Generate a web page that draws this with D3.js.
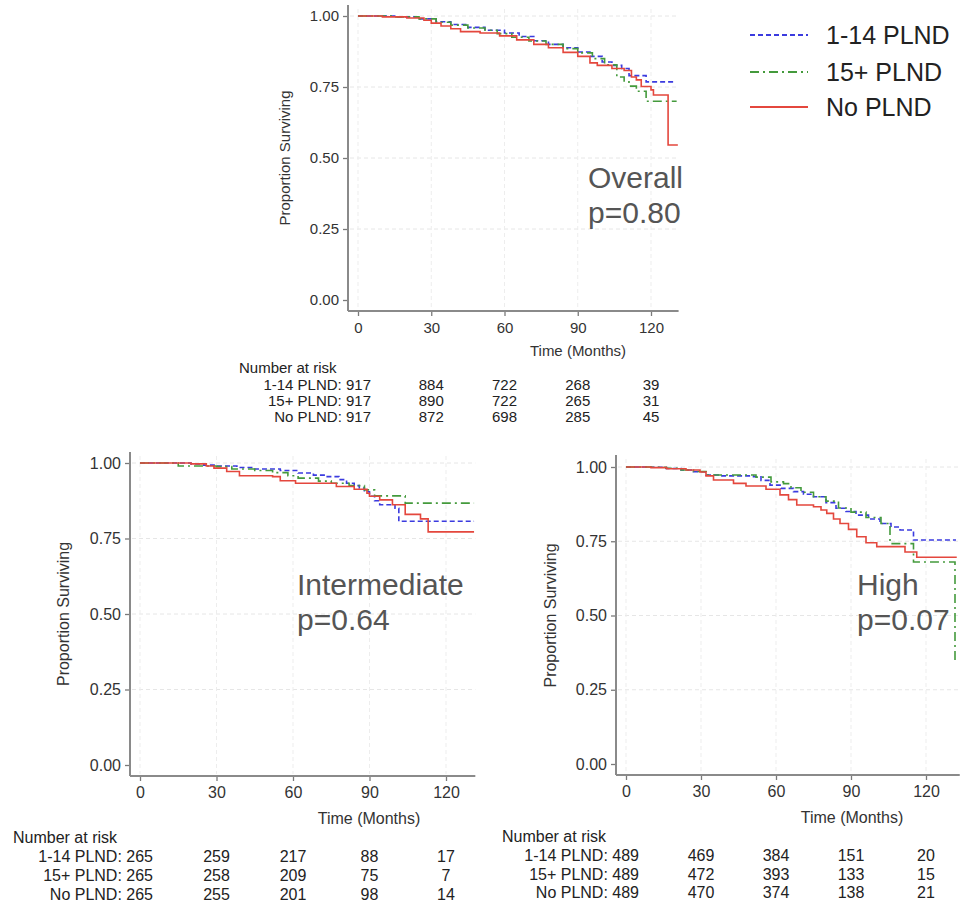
<!DOCTYPE html>
<html>
<head>
<meta charset="utf-8">
<script src="https://cdn.jsdelivr.net/npm/d3@7"></script>
<style>
  body { margin: 0; background: #fff; }
  text { font-family: "Liberation Sans", Arial, sans-serif; }
</style>
</head>
<body>
<script>
/* DATA */
var groups = ["1-14 PLND", "15+ PLND", "No PLND"];
var xTicks = [0, 30, 60, 90, 120];
var yTicks = [0, 0.25, 0.5, 0.75, 1];

// Kaplan-Meier steps: [month, proportion surviving]
var overallBlue = [[0,1],[15,0.997],[25,0.99],[32,0.98],[38,0.97],[45,0.96],[52,0.95],[60,0.94],[66,0.928],[72,0.913],[78,0.9],[84,0.888],[90,0.873],[95,0.858],[100,0.838],[104,0.826],[108,0.815],[111,0.79],[118,0.768],[130,0.768]];
var overallGreen = [[0,1],[15,0.997],[25,0.99],[32,0.978],[38,0.968],[45,0.958],[52,0.95],[57,0.938],[63,0.925],[70,0.912],[77,0.9],[84,0.885],[90,0.87],[96,0.85],[101,0.828],[106,0.785],[109,0.768],[111,0.753],[114,0.735],[118,0.70],[130.5,0.70]];
var overallRed = [[0,1],[10,0.997],[20,0.993],[27,0.985],[30,0.975],[34,0.965],[38,0.955],[42,0.945],[50,0.94],[58,0.93],[65,0.916],[72,0.9],[78,0.888],[84,0.872],[90,0.858],[95,0.835],[98,0.826],[104,0.815],[109,0.808],[112,0.785],[114,0.775],[116,0.752],[120,0.74],[121,0.722],[127,0.546],[131,0.546]];

var interBlue = [[0,1],[20,0.997],[25,0.993],[30,0.99],[38,0.985],[45,0.98],[55,0.975],[62,0.967],[68,0.96],[73,0.955],[78,0.945],[81,0.933],[84,0.925],[86,0.917],[88,0.905],[90,0.89],[92,0.875],[94,0.862],[100,0.85],[101.5,0.807],[131,0.807]];
var interGreen = [[0,1],[15,0.99],[30,0.988],[36,0.98],[45,0.975],[52,0.968],[58,0.958],[62,0.95],[70,0.94],[75,0.933],[82,0.925],[88,0.911],[92,0.891],[104,0.867],[131,0.867]];
var interRed = [[0,1],[20,0.997],[26,0.99],[29,0.983],[34,0.972],[39,0.958],[52,0.955],[55,0.941],[61,0.933],[74,0.933],[77,0.922],[84,0.913],[89,0.9],[90,0.89],[94,0.878],[99,0.862],[104,0.83],[110,0.815],[113,0.772],[131,0.772]];

var highBlue = [[0,1],[10,0.999],[16,0.995],[22,0.99],[27,0.984],[32,0.973],[38,0.97],[51,0.967],[54,0.955],[57.6,0.939],[62,0.928],[67,0.917],[71,0.908],[75,0.9],[80,0.88],[84,0.861],[88,0.85],[92,0.838],[97,0.825],[101.6,0.81],[106,0.798],[109.6,0.788],[115,0.754],[132,0.754]];
var highGreen = [[0,1],[10,0.999],[16,0.996],[22,0.99],[27,0.985],[32,0.973],[52,0.966],[58,0.95],[63,0.944],[66,0.93],[70,0.915],[75,0.9],[80,0.885],[85,0.862],[90,0.848],[96,0.83],[102,0.81],[105.6,0.742],[115,0.68],[131.6,0.68],[131.6,0.343]];
var highRed = [[0,1],[10,0.998],[16.3,0.994],[24,0.99],[29.6,0.983],[32,0.97],[35,0.956],[43,0.945],[48,0.936],[56,0.925],[61.6,0.906],[65,0.89],[68.3,0.872],[75,0.866],[78,0.855],[80.3,0.844],[83,0.825],[85.6,0.81],[89,0.79],[92.3,0.765],[96,0.745],[100.3,0.732],[109.6,0.732],[111.6,0.714],[116.3,0.696],[132.3,0.696]];

// number at risk at 0, 30, 60, 90, 120 months
var overallRisk = [[917,884,722,268,39],[917,890,722,265,31],[917,872,698,285,45]];
var interRisk = [[265,259,217,88,17],[265,258,209,75,7],[265,255,201,98,14]];
var highRisk = [[489,469,384,151,20],[489,472,393,133,15],[489,470,374,138,21]];

/* STYLE */
var colors = ["#3b3bdf", "#449a3c", "#e4473d"];
var dashes = ["5,3", "9,4,2,4", null];

var svg = d3.select("body").append("svg")
    .attr("width", 968)
    .attr("height", 916);

var panels = [
  {title: "Overall", p: "p=0.80", curves: [overallBlue, overallGreen, overallRed], risk: overallRisk,
   x0: 358, x120: 651, xEnd: 131.3, yTop: 16, yBot: 300, axisX: 348, axisY: 311, axisTop: 5, fs: 15,
   labX: 588, labY: 188, yTitleX: 290, timeX: 578, timeY: 356, nriskX: 239, nriskY: 373, rowY: [390, 406, 422]},
  {title: "Intermediate", p: "p=0.64", curves: [interBlue, interGreen, interRed], risk: interRisk,
   x0: 140, x120: 446, xEnd: 131.5, yTop: 463, yBot: 765, axisX: 130, axisY: 776, axisTop: 452, fs: 16,
   labX: 297, labY: 595, yTitleX: 69, timeX: 369, timeY: 824, nriskX: 13, nriskY: 843, rowY: [862, 881, 900]},
  {title: "High", p: "p=0.07", curves: [highBlue, highGreen, highRed], risk: highRisk,
   x0: 626, x120: 926, xEnd: 133.5, yTop: 467, yBot: 764, axisX: 616, axisY: 775, axisTop: 455, fs: 16,
   labX: 857, labY: 595, yTitleX: 556, timeX: 852, timeY: 823, nriskX: 502, nriskY: 842, rowY: [861, 880, 898]}
];

panels.forEach(drawPanel);
drawLegend();

function drawPanel(p) {
  var x = d3.scaleLinear().domain([0, 120]).range([p.x0, p.x120]);
  var y = d3.scaleLinear().domain([0, 1]).range([p.yBot, p.yTop]);
  var g = svg.append("g");

  // grid
  g.selectAll(".hgrid").data(yTicks.slice(1)).enter().append("line")
    .attr("x1", p.axisX + 2).attr("x2", x(p.xEnd))
    .attr("y1", d => y(d)).attr("y2", d => y(d))
    .attr("stroke", "#e6e6e6").attr("stroke-dasharray", "4,3");
  g.selectAll(".vgrid").data(xTicks).enter().append("line")
    .attr("x1", d => x(d)).attr("x2", d => x(d))
    .attr("y1", p.axisTop + 4).attr("y2", p.axisY - 2)
    .attr("stroke", "#ededed").attr("stroke-dasharray", "4,3");

  // axes
  var yAxis = g.append("g")
    .attr("transform", "translate(" + p.axisX + ",0)")
    .call(d3.axisLeft(y).tickValues(yTicks).tickFormat(d3.format(".2f")).tickSize(5).tickPadding(4));
  var xAxis = g.append("g")
    .attr("transform", "translate(0," + p.axisY + ")")
    .call(d3.axisBottom(x).tickValues(xTicks).tickSize(5).tickPadding(6));
  [yAxis, xAxis].forEach(function(a) {
    a.select(".domain").remove();
    a.selectAll("line").attr("stroke", "#7a7a7a").attr("stroke-width", 1.3);
    a.selectAll("text").attr("fill", "#333").style("font-size", p.fs + "px");
  });
  g.append("line").attr("x1", p.axisX).attr("x2", p.axisX)
    .attr("y1", p.axisTop).attr("y2", p.axisY)
    .attr("stroke", "#8a8a8a").attr("stroke-width", 2);
  g.append("line").attr("x1", p.axisX).attr("x2", x(p.xEnd))
    .attr("y1", p.axisY).attr("y2", p.axisY)
    .attr("stroke", "#8a8a8a").attr("stroke-width", 2);

  // axis titles
  g.append("text")
    .attr("transform", "translate(" + p.yTitleX + "," + ((p.yTop + p.yBot) / 2) + ") rotate(-90)")
    .attr("text-anchor", "middle")
    .attr("fill", "#333")
    .style("font-size", p.fs + "px")
    .text("Proportion Surviving");
  g.append("text")
    .attr("x", p.timeX).attr("y", p.timeY)
    .attr("text-anchor", "middle")
    .attr("fill", "#333")
    .style("font-size", p.fs + "px")
    .text("Time (Months)");

  // curves
  var line = d3.line()
    .x(d => x(d[0]))
    .y(d => y(d[1]))
    .curve(d3.curveStepAfter);
  [0, 1, 2].forEach(function(i) {
    g.append("path")
      .attr("d", line(p.curves[i]))
      .attr("fill", "none")
      .attr("stroke", colors[i])
      .attr("stroke-width", 1.6)
      .attr("stroke-dasharray", dashes[i]);
  });

  // panel label
  g.append("text").attr("x", p.labX).attr("y", p.labY)
    .attr("fill", "#555").style("font-size", "30px").text(p.title);
  g.append("text").attr("x", p.labX).attr("y", p.labY + 35)
    .attr("fill", "#555").style("font-size", "30px").text(p.p);

  // number at risk table
  g.append("text").attr("x", p.nriskX).attr("y", p.nriskY)
    .attr("fill", "#222").style("font-size", p.fs + "px").text("Number at risk");
  p.risk.forEach(function(row, r) {
    g.append("text")
      .attr("x", x(0) + 13).attr("y", p.rowY[r])
      .attr("text-anchor", "end")
      .attr("fill", "#222").style("font-size", p.fs + "px")
      .text(groups[r] + ": " + row[0]);
    g.selectAll(".risk" + r).data(row.slice(1)).enter().append("text")
      .attr("x", (d, k) => x(xTicks[k + 1]))
      .attr("y", p.rowY[r])
      .attr("text-anchor", "middle")
      .attr("fill", "#222").style("font-size", p.fs + "px")
      .text(d => d);
  });
}

function drawLegend() {
  var lg = svg.append("g");
  var rows = [35, 72, 107];
  groups.forEach(function(name, i) {
    lg.append("line")
      .attr("x1", 750).attr("x2", 808)
      .attr("y1", rows[i]).attr("y2", rows[i])
      .attr("stroke", colors[i]).attr("stroke-width", 2)
      .attr("stroke-dasharray", dashes[i]);
    lg.append("text")
      .attr("x", 826).attr("y", rows[i] + 9)
      .attr("fill", "#222")
      .style("font-size", "25px")
      .text(name);
  });
}
</script>
</body>
</html>
